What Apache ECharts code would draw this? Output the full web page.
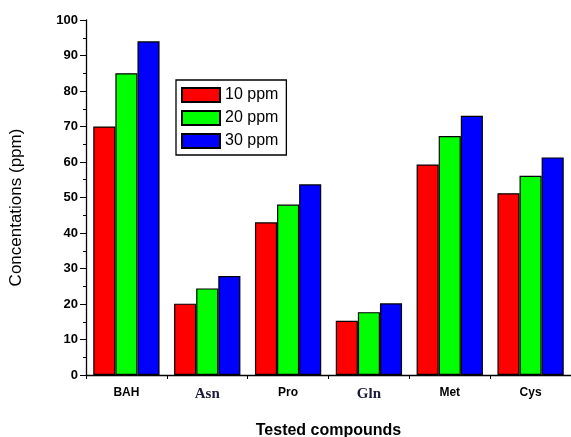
<!DOCTYPE html>
<html><head><meta charset="utf-8">
<script src="https://cdn.jsdelivr.net/npm/echarts@6/dist/echarts.min.js"></script>
<style>html,body{margin:0;padding:0;background:#fff}#c{width:571px;height:437px}</style>
</head><body><div id="c"></div>
<script>
const categories = ['BAH', 'Asn', 'Pro', 'Gln', 'Met', 'Cys'];
const seriesNames = ['10 ppm', '20 ppm', '30 ppm'];
const values10 = [70, 20.1, 43, 15.3, 59.3, 51.2];
const values20 = [85, 24.4, 48, 17.7, 67.3, 56.1];
const values30 = [94, 27.9, 53.7, 20.2, 73, 61.3];
const colors = ['#ff0000', '#00ff00', '#0000ff'];
const yTicks = [0, 100, 10];

const chart = echarts.init(document.getElementById('c'), null, {renderer: 'canvas'});
const data = [values10, values20, values30];
const serif = {fontFamily: 'Liberation Serif', fontWeight: 'bold', fontSize: 15, color: '#1a1a3a'};
const sans = {fontFamily: 'Liberation Sans', fontWeight: 'bold', fontSize: 12, color: '#000'};
chart.setOption({
  animation: false,
  grid: {left: 86, right: 0, top: 20, bottom: 62, containLabel: false, outerBoundsMode: 'none'},
  legend: {
    orient: 'vertical', left: 176, top: 80,
    data: seriesNames,
    itemWidth: 38, itemHeight: 14, itemGap: 7,
    padding: [7, 8, 6, 5],
    borderColor: '#000', borderWidth: 1.3,
    textStyle: {fontFamily: 'Liberation Sans', fontSize: 16, color: '#000', padding: [0, 0, 0, 0]},
    icon: 'rect'
  },
  xAxis: {
    type: 'category', data: categories,
    name: 'Tested compounds', nameLocation: 'middle', nameGap: 48,
    nameTextStyle: {fontFamily: 'Liberation Sans', fontWeight: 'bold', fontSize: 16, color: '#000'},
    axisLine: {lineStyle: {color: '#000', width: 1.3}},
    axisTick: {show: true, alignWithLabel: false, length: 4, lineStyle: {color: '#000'}},
    minorTick: {show: false},
    axisLabel: {
      margin: 12,
      formatter: function (v) { return (v === 'Asn' || v === 'Gln') ? '{s|' + v + '}' : '{a|' + v + '}'; },
      rich: {s: serif, a: sans}
    }
  },
  yAxis: {
    type: 'value', min: yTicks[0], max: yTicks[1], interval: yTicks[2],
    name: 'Concentations (ppm)', nameLocation: 'middle', nameGap: 61, nameRotate: 90,
    nameTextStyle: {fontFamily: 'Liberation Sans', fontSize: 17, color: '#000', padding: [0, 20, 0, 0]},
    axisLine: {show: true, lineStyle: {color: '#000', width: 1.3}},
    axisTick: {show: true, length: 6, lineStyle: {color: '#000'}},
    minorTick: {show: true, splitNumber: 2, length: 3, lineStyle: {color: '#000'}},
    splitLine: {show: false},
    axisLabel: {fontFamily: 'Liberation Sans', fontWeight: 'bold', fontSize: 13, color: '#000', margin: 8}
  },
  series: seriesNames.map((n, i) => ({
    name: n, type: 'bar', data: data[i],
    barGap: '0%', barCategoryGap: '18%',
    itemStyle: {color: colors[i], borderColor: '#000', borderWidth: 1.2}
  }))
});
</script></body></html>
